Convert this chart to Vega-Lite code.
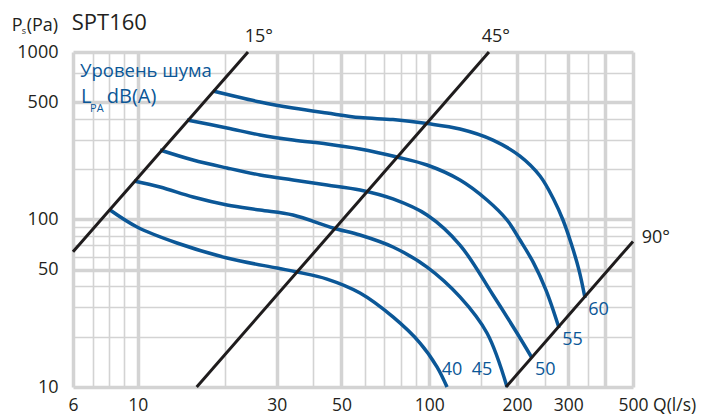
{
  "$schema": "https://vega.github.io/schema/vega-lite/v6.json",
  "width": 560,
  "height": 335,
  "autosize": {"type": "none"},
  "padding": {"left": 73, "top": 52, "right": 74, "bottom": 27},
  "background": "white",
  "config": {"view": {"stroke": null}, "font": "Open Sans"},
  "datasets": {
    "curves": [
      {"level": "40", "Q": 8.04, "P": 113.9},
      {"level": "40", "Q": 9.95, "P": 90.2},
      {"level": "40", "Q": 13.64, "P": 72.4},
      {"level": "40", "Q": 20.25, "P": 58.9},
      {"level": "40", "Q": 30.06, "P": 51.3},
      {"level": "40", "Q": 35.2, "P": 48.6},
      {"level": "40", "Q": 44.61, "P": 44.1},
      {"level": "40", "Q": 57.89, "P": 36.4},
      {"level": "40", "Q": 75.1, "P": 26.2},
      {"level": "40", "Q": 93.0, "P": 18.3},
      {"level": "40", "Q": 106.3, "P": 13.2},
      {"level": "40", "Q": 115.1, "P": 10},
      {"level": "45", "Q": 9.71, "P": 169.8},
      {"level": "45", "Q": 11.93, "P": 156.3},
      {"level": "45", "Q": 15.48, "P": 136.2},
      {"level": "45", "Q": 20.25, "P": 122.1},
      {"level": "45", "Q": 26.28, "P": 113.9},
      {"level": "45", "Q": 34.1, "P": 106.4},
      {"level": "45", "Q": 46.77, "P": 89.0},
      {"level": "45", "Q": 57.89, "P": 80.8},
      {"level": "45", "Q": 75.1, "P": 68.5},
      {"level": "45", "Q": 98.3, "P": 52.0},
      {"level": "45", "Q": 127.5, "P": 34.5},
      {"level": "45", "Q": 157.8, "P": 21.0},
      {"level": "45", "Q": 184.9, "P": 10},
      {"level": "50", "Q": 11.93, "P": 260},
      {"level": "50", "Q": 15.48, "P": 226.6},
      {"level": "50", "Q": 20.25, "P": 203},
      {"level": "50", "Q": 26.28, "P": 184.4},
      {"level": "50", "Q": 34.1, "P": 172.1},
      {"level": "50", "Q": 44.61, "P": 160.7},
      {"level": "50", "Q": 57.89, "P": 150},
      {"level": "50", "Q": 75.1, "P": 132.6},
      {"level": "50", "Q": 98.3, "P": 106.4},
      {"level": "50", "Q": 127.5, "P": 70.4},
      {"level": "50", "Q": 165.5, "P": 35.4},
      {"level": "50", "Q": 200, "P": 21.0},
      {"level": "50", "Q": 225.2, "P": 14.9},
      {"level": "55", "Q": 14.76, "P": 393},
      {"level": "55", "Q": 20.25, "P": 352},
      {"level": "55", "Q": 26.28, "P": 319.6},
      {"level": "55", "Q": 34.1, "P": 298},
      {"level": "55", "Q": 44.61, "P": 282.3},
      {"level": "55", "Q": 57.89, "P": 263.6},
      {"level": "55", "Q": 77.5, "P": 236.1},
      {"level": "55", "Q": 98.3, "P": 211.5},
      {"level": "55", "Q": 127.5, "P": 172.1},
      {"level": "55", "Q": 157.8, "P": 130.8},
      {"level": "55", "Q": 184.9, "P": 99.3},
      {"level": "55", "Q": 204.8, "P": 75.4},
      {"level": "55", "Q": 227, "P": 55.8},
      {"level": "55", "Q": 251.5, "P": 37.9},
      {"level": "55", "Q": 278.8, "P": 22.5},
      {"level": "60", "Q": 18.13, "P": 585},
      {"level": "60", "Q": 26.28, "P": 503},
      {"level": "60", "Q": 34.1, "P": 463},
      {"level": "60", "Q": 44.61, "P": 432},
      {"level": "60", "Q": 57.89, "P": 406},
      {"level": "60", "Q": 75.1, "P": 395},
      {"level": "60", "Q": 98.3, "P": 374},
      {"level": "60", "Q": 127.5, "P": 347},
      {"level": "60", "Q": 165.5, "P": 298},
      {"level": "60", "Q": 204.8, "P": 239},
      {"level": "60", "Q": 239.9, "P": 181.8},
      {"level": "60", "Q": 267.9, "P": 130.8},
      {"level": "60", "Q": 287.6, "P": 99.3},
      {"level": "60", "Q": 306.5, "P": 72.4},
      {"level": "60", "Q": 326.4, "P": 49.9},
      {"level": "60", "Q": 342.3, "P": 34.0}
    ],
    "angles": [
      {"angle": "15", "Q": 6, "P": 64.2},
      {"angle": "15", "Q": 23.9, "P": 1000},
      {"angle": "45", "Q": 15.94, "P": 10},
      {"angle": "45", "Q": 160.3, "P": 1000},
      {"angle": "90", "Q": 183.4, "P": 10},
      {"angle": "90", "Q": 500, "P": 74}
    ],
    "curveLabels": [
      {"Q": 110.4, "P": 11.8, "label": "40"},
      {"Q": 139.9, "P": 11.8, "label": "45"},
      {"Q": 230.6, "P": 11.8, "label": "50"},
      {"Q": 286.1, "P": 17.8, "label": "55"},
      {"Q": 351.3, "P": 26.9, "label": "60"}
    ],
    "angleLabels": [
      {"Q": 23.3, "P": 1152, "label": "15°"},
      {"Q": 151.4, "P": 1152, "label": "45°"},
      {"Q": 535.6, "P": 72.1, "label": "90°"}
    ],
    "noteTitle": [
      {"Q": 6.342, "P": 706, "label": "Уровень шума"}
    ],
    "notes": [
      {"Q": 6.393, "P": 494, "label": "L"},
      {"Q": 7.831, "P": 494, "label": "dB(A)"}
    ],
    "notesSub": [
      {"Q": 6.863, "P": 440, "label": "PA"}
    ],
    "chartTitle": [
      {"Q": 5.94, "P": 1353, "label": "SPT160"}
    ],
    "yTitle": [
      {"Q": 3.697, "P": 1340, "label": "P"},
      {"Q": 4.163, "P": 1340, "label": "(Pa)"}
    ],
    "yTitleSub": [
      {"Q": 4.0, "P": 1281, "label": "s"}
    ]
  },
  "encoding": {
    "x": {
      "field": "Q", "type": "quantitative",
      "scale": {"type": "log", "domain": [6, 500], "nice": false, "zero": false},
      "axis": {
        "values": [6, 7, 8, 9, 10, 20, 30, 40, 50, 60, 70, 80, 90, 100, 150, 200, 250, 300, 350, 400, 500],
        "title": null, "ticks": false, "domain": false, "grid": true,
        "gridColor": "#d3d3d3",
        "gridWidth": {"condition": {"test": "indexof([6,10,30,50,100,200,300,400,500], datum.value) >= 0", "value": 3.5}, "value": 1.6},
        "labelExpr": "datum.value == 500 ? '500 Q(l/s)' : (indexof([6,10,30,50,100,200,300], datum.value) >= 0 ? '' + datum.value : '')",
        "labelAlign": {"condition": {"test": "datum.value == 500", "value": "left"}, "value": "center"},
        "labelOffset": {"condition": {"test": "datum.value == 500", "value": -15}, "value": 0},
        "labelFlush": false, "labelOverlap": false, "labelBound": false,
        "labelFontSize": 17.5, "labelFont": "Open Sans", "labelColor": "#231f20",
        "labelPadding": 9, "labelBaseline": "top"
      }
    },
    "y": {
      "field": "P", "type": "quantitative",
      "scale": {"type": "log", "domain": [10, 1000], "nice": false, "zero": false},
      "axis": {
        "values": [10, 20, 30, 40, 50, 60, 70, 80, 90, 100, 200, 300, 400, 500, 750, 1000],
        "title": null, "ticks": false, "domain": false, "grid": true,
        "gridColor": "#d3d3d3",
        "gridWidth": {"condition": {"test": "indexof([10,50,100,500,1000], datum.value) >= 0", "value": 3.5}, "value": 1.6},
        "labelExpr": "indexof([10,50,100,500,1000], datum.value) >= 0 ? '' + datum.value : ''",
        "labelFlush": false, "labelOverlap": false, "labelBound": false,
        "labelFontSize": 18, "labelFont": "Open Sans", "labelColor": "#231f20",
        "labelPadding": 15
      }
    }
  },
  "layer": [
    {
      "data": {"name": "curves"},
      "mark": {"type": "line", "interpolate": "catmull-rom", "color": "#0b5797", "strokeWidth": 3.5, "clip": false},
      "encoding": {"detail": {"field": "level"}}
    },
    {
      "data": {"name": "angles"},
      "mark": {"type": "line", "color": "#1f1c1d", "strokeWidth": 3, "clip": false},
      "encoding": {"detail": {"field": "angle"}}
    },
    {
      "data": {"name": "curveLabels"},
      "mark": {"type": "text", "align": "left", "baseline": "alphabetic", "fontSize": 18, "font": "Open Sans", "color": "#0b5797"},
      "encoding": {"text": {"field": "label"}}
    },
    {
      "data": {"name": "angleLabels"},
      "mark": {"type": "text", "align": "left", "baseline": "alphabetic", "fontSize": 18, "font": "Open Sans", "color": "#231f20"},
      "encoding": {"text": {"field": "label"}}
    },
    {
      "data": {"name": "noteTitle"},
      "mark": {"type": "text", "align": "left", "baseline": "alphabetic", "fontSize": 18.5, "font": "Open Sans", "color": "#0b5797"},
      "encoding": {"text": {"field": "label"}}
    },
    {
      "data": {"name": "notes"},
      "mark": {"type": "text", "align": "left", "baseline": "alphabetic", "fontSize": 20, "font": "Open Sans", "color": "#0b5797"},
      "encoding": {"text": {"field": "label"}}
    },
    {
      "data": {"name": "notesSub"},
      "mark": {"type": "text", "align": "left", "baseline": "alphabetic", "fontSize": 11, "font": "Open Sans", "color": "#0b5797"},
      "encoding": {"text": {"field": "label"}}
    },
    {
      "data": {"name": "chartTitle"},
      "mark": {"type": "text", "align": "left", "baseline": "alphabetic", "fontSize": 22, "font": "Open Sans", "color": "#231f20"},
      "encoding": {"text": {"field": "label"}}
    },
    {
      "data": {"name": "yTitle"},
      "mark": {"type": "text", "align": "left", "baseline": "alphabetic", "fontSize": 18, "font": "Open Sans", "color": "#231f20"},
      "encoding": {"text": {"field": "label"}}
    },
    {
      "data": {"name": "yTitleSub"},
      "mark": {"type": "text", "align": "left", "baseline": "alphabetic", "fontSize": 9, "font": "Open Sans", "color": "#231f20"},
      "encoding": {"text": {"field": "label"}}
    }
  ]
}
